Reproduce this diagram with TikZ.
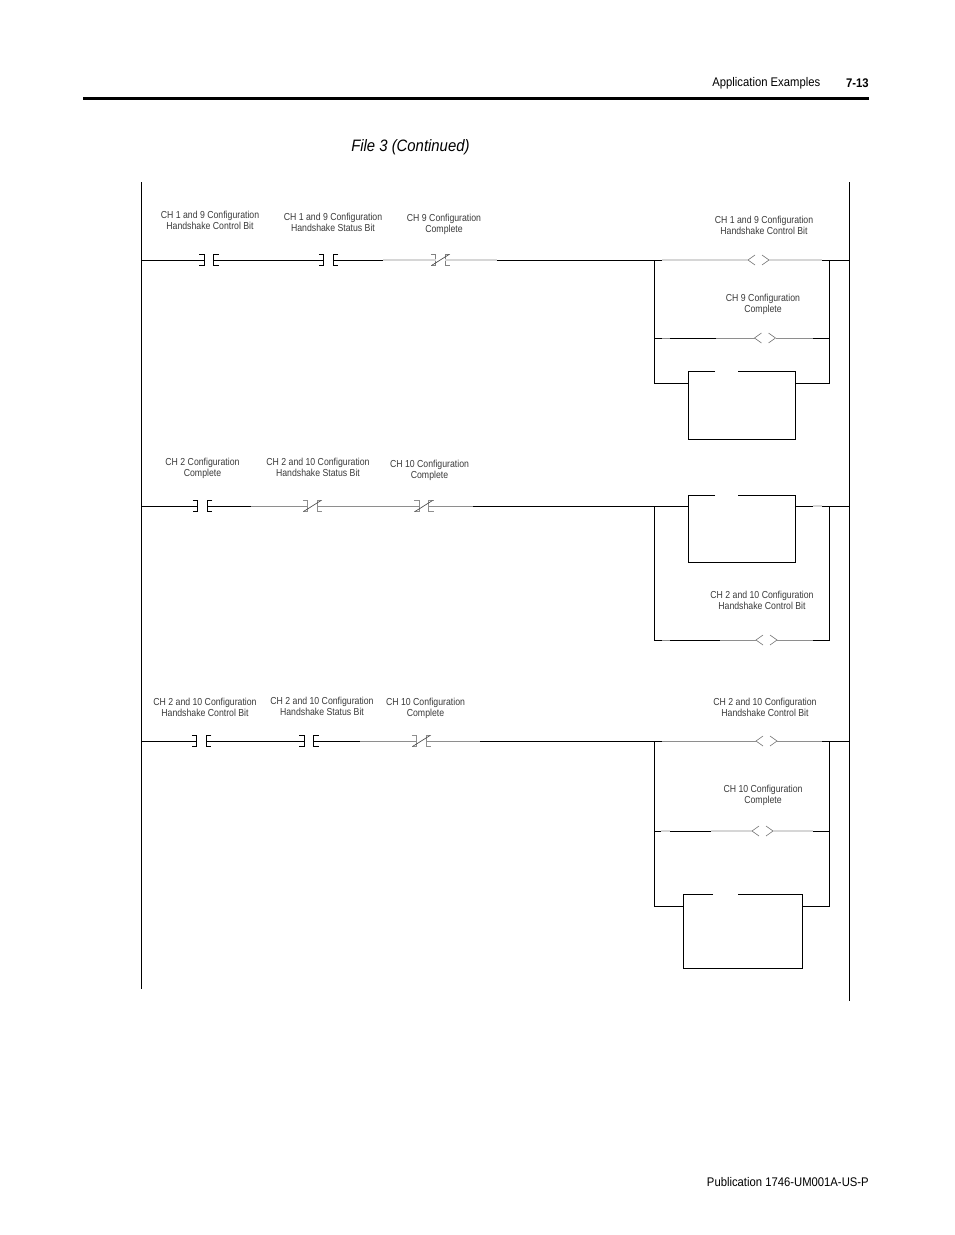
\documentclass[tikz,border=0pt]{standalone}
\usepackage{fontspec}
\setmainfont{Liberation Sans}
\newfontfamily\narrowfont[FakeStretch=0.86]{Liberation Sans}
\newfontfamily\headfont[FakeStretch=0.90]{Liberation Sans}
\definecolor{faintgray}{HTML}{D6D6D6}
\definecolor{midgray}{HTML}{8E8E8E}
\definecolor{labelgray}{HTML}{3A3A3A}
\tikzset{
  wire/.style={black, line width=0.6pt},
  faintwire/.style={faintgray, line width=0.9pt},
  midwire/.style={midgray, line width=0.7pt},
  rail/.style={black, line width=0.65pt},
  taglabel/.style={inner sep=0pt, align=center, text=labelgray, font=\narrowfont\fontsize{7.6}{8.25}\selectfont},
  headlabel/.style={inner sep=0pt, font=\headfont\fontsize{9.4}{11}\selectfont},
  pics/nocontact/.style={code={
    \coordinate (-in) at (-4.75,0);
    \coordinate (-out) at (4.75,0);
    \draw[black, line width=0.5pt] (-9.75,-5.5) -- (-4.75,-5.5) -- (-4.75,5.5) -- (-9.75,5.5);
    \draw[black, line width=0.5pt] (9.75,-5.5) -- (4.75,-5.5) -- (4.75,5.5) -- (9.75,5.5);
  }},
  pics/nccontact/.style={code={
    \coordinate (-in) at (-4.75,0);
    \coordinate (-out) at (4.75,0);
    \draw[#1, line width=0.5pt] (-9.75,-5.5) -- (-4.75,-5.5) -- (-4.75,5.5) -- (-9.75,5.5);
    \draw[#1, line width=0.5pt] (9.75,-5.5) -- (4.75,-5.5) -- (4.75,5.5) -- (9.75,5.5);
    \draw[black!70, line width=0.5pt] (-9,5.5) -- (8.5,-5.5);
  }},
  pics/coil/.style={code={
    \coordinate (-in) at (-10.5,0);
    \coordinate (-out) at (10.5,0);
    \draw[black!55, line width=0.45pt] (-3.5,-5) -- (-10.5,0) -- (-3.5,5);
    \draw[black!55, line width=0.45pt] (3.5,-5) -- (10.5,0) -- (3.5,5);
  }},
}
\begin{document}
\begin{tikzpicture}[x=0.75pt, y=-0.75pt]
\useasboundingbox (0,0) rectangle (954,1235);

% Page furniture
\coordinate (ruleL) at (83,98.5);
\coordinate (ruleR) at (869,98.5);
\draw[black, line width=2.2pt] (ruleL) -- (ruleR);
\node[headlabel, anchor=east] (headTitle) at (820.5,83.5) {Application Examples};
\node[headlabel, anchor=east] (headPage) at (869,83.5) {\bfseries 7-13};
\node[anchor=west, inner sep=0pt, font=\headfont\itshape\fontsize{12.4}{16}\selectfont] (fileTitle) at (351,147) {File 3 (Continued)};
\node[headlabel, anchor=east] (footPub) at (869,1182) {Publication 1746-UM001A-US-P};

% Power rails
\coordinate (leftTop) at (141,182);
\coordinate (leftBot) at (141,989);
\coordinate (rightTop) at (849,182);
\coordinate (rightBot) at (849,1001);
\draw[rail] (leftTop) -- (leftBot);
\draw[rail] (rightTop) -- (rightBot);

%%% Rung 1
\coordinate (a0) at (141,260);
\coordinate (a1) at (383,260);
\coordinate (a2) at (497,260);
\coordinate (aL) at (654,260);
\coordinate (a3) at (662,260);
\coordinate (a4) at (822,260);
\coordinate (aR) at (829.5,260);
\coordinate (a5) at (849,260);
\path (209,260) pic (aC1) {nocontact};
\path (328.5,260) pic (aC2) {nocontact};
\path (440.5,260) pic (aC3) {nccontact=faintgray!60!black};
\path (758.5,260) pic (aQ1) {coil};
\draw[wire] (a0) -- (aC1-in);
\draw[wire] (aC1-out) -- (aC2-in);
\draw[wire] (aC2-out) -- (a1);
\draw[faintwire] (a1) -- (aC3-in);
\draw[faintwire] (aC3-out) -- (a2);
\draw[wire] (a2) -- (a3);
\draw[faintwire] (a3) -- (aQ1-in);
\draw[faintwire] (aQ1-out) -- (a4);
\draw[wire] (a4) -- (a5);
% Second branch
\coordinate (aL2) at (654,338);
\coordinate (aR2) at (829.5,338);
\coordinate (a6) at (716,338);
\coordinate (a7) at (813,338);
\coordinate (a8) at (662,338);
\coordinate (a9) at (670,338);
\path (765,338) pic (aQ2) {coil};
\draw[wire] (aL2) -- (a8);
\draw[midwire] (a8) -- (a9);
\draw[wire] (a9) -- (a6);
\draw[midwire] (a6) -- (aQ2-in);
\draw[midwire] (aQ2-out) -- (a7);
\draw[wire] (a7) -- (aR2);
% Block
\coordinate (aL3) at (654,383);
\coordinate (aR3) at (829.5,383);
\coordinate (aBnw) at (688,371);
\coordinate (aBse) at (795.5,439);
\coordinate (aBgl) at (715,371);
\coordinate (aBgr) at (738,371);
\coordinate (aBw) at (688,383);
\coordinate (aBe) at (795.5,383);
\draw[wire] (aBgl) -- (aBnw) |- (aBse) |- (aBgr);
\draw[wire] (aL) -- (aL3) -- (aBw);
\draw[wire] (aR) -- (aR3) -- (aBe);

%%% Rung 2
\coordinate (b0) at (141,506);
\coordinate (b1) at (251,506);
\coordinate (b2) at (473,506);
\coordinate (bL) at (654,506);
\coordinate (bR) at (829.5,506);
\coordinate (b3) at (813,506);
\coordinate (b4) at (822,506);
\coordinate (b5) at (849,506);
\path (202.5,506) pic (bC1) {nocontact};
\path (312.5,506) pic (bC2) {nccontact=midgray};
\path (424,506) pic (bC3) {nccontact=midgray};
\draw[wire] (b0) -- (bC1-in);
\draw[wire] (bC1-out) -- (b1);
\draw[midwire] (b1) -- (bC2-in);
\draw[midwire] (bC2-out) -- (bC3-in);
\draw[midwire] (bC3-out) -- (b2);
% Block
\coordinate (bBnw) at (688,495);
\coordinate (bBse) at (795.5,562);
\coordinate (bBgl) at (715,495);
\coordinate (bBgr) at (738,495);
\coordinate (bBw) at (688,506);
\coordinate (bBe) at (795.5,506);
\draw[wire] (bBgl) -- (bBnw) |- (bBse) |- (bBgr);
\draw[wire] (b2) -- (bBw);
\draw[wire] (bBe) -- (b3);
\draw[faintwire] (b3) -- (b4);
\draw[wire] (b4) -- (b5);
% Second branch
\coordinate (bL2) at (654,640);
\coordinate (bR2) at (829.5,640);
\coordinate (b6) at (720,640);
\coordinate (b7) at (813,640);
\coordinate (b8) at (662,640);
\coordinate (b9) at (670,640);
\path (766.5,640) pic (bQ1) {coil};
\draw[wire] (bL) -- (bL2) -- (b8);
\draw[midwire] (b8) -- (b9);
\draw[wire] (b9) -- (b6);
\draw[midwire] (b6) -- (bQ1-in);
\draw[midwire] (bQ1-out) -- (b7);
\draw[wire] (b7) -- (bR2) -- (bR);

%%% Rung 3
\coordinate (c0) at (141,741);
\coordinate (c1) at (360,741);
\coordinate (c2) at (480,741);
\coordinate (cL) at (654,741);
\coordinate (c3) at (662,741);
\coordinate (c4) at (822,741);
\coordinate (cR) at (829.5,741);
\coordinate (c5) at (849,741);
\path (201.5,741) pic (cC1) {nocontact};
\path (309,741) pic (cC2) {nocontact};
\path (421.5,741) pic (cC3) {nccontact=midgray};
\path (766.5,741) pic (cQ1) {coil};
\draw[wire] (c0) -- (cC1-in);
\draw[wire] (cC1-out) -- (cC2-in);
\draw[wire] (cC2-out) -- (c1);
\draw[midwire] (c1) -- (cC3-in);
\draw[midwire] (cC3-out) -- (c2);
\draw[wire] (c2) -- (c3);
\draw[midwire] (c3) -- (cQ1-in);
\draw[midwire] (cQ1-out) -- (c4);
\draw[wire] (c4) -- (c5);
% Second branch
\coordinate (cL2) at (654,831);
\coordinate (cR2) at (829.5,831);
\coordinate (c6) at (711,831);
\coordinate (c7) at (813,831);
\coordinate (c8) at (661,831);
\coordinate (c9) at (670,831);
\path (762.5,831) pic (cQ2) {coil};
\draw[wire] (cL2) -- (c8);
\draw[faintwire] (c8) -- (c9);
\draw[wire] (c9) -- (c6);
\draw[faintwire] (c6) -- (cQ2-in);
\draw[faintwire] (cQ2-out) -- (c7);
\draw[wire] (c7) -- (cR2);
% Block
\coordinate (cL3) at (654,906.5);
\coordinate (cR3) at (829.5,906.5);
\coordinate (cBnw) at (683,894);
\coordinate (cBse) at (802.5,968);
\coordinate (cBgl) at (713,894);
\coordinate (cBgr) at (738,894);
\coordinate (cBw) at (683,906.5);
\coordinate (cBe) at (802.5,906.5);
\draw[wire] (cBgl) -- (cBnw) |- (cBse) |- (cBgr);
\draw[wire] (cL) -- (cL3) -- (cBw);
\draw[wire] (cR) -- (cR3) -- (cBe);

% Tags, rung 1
\node[taglabel] (aT1) at (210,220) {CH 1 and 9 Configuration\\Handshake Control Bit};
\node[taglabel] (aT2) at (333,222) {CH 1 and 9 Configuration\\Handshake Status Bit};
\node[taglabel] (aT3) at (444,224) {CH 9 Configuration\\Complete};
\node[taglabel] (aT4) at (764,225) {CH 1 and 9 Configuration\\Handshake Control Bit};
\node[taglabel] (aT5) at (763,304.5) {CH 9 Configuration\\Complete};
% Tags, rung 2
\node[taglabel] (bT1) at (202.5,468.5) {CH 2 Configuration\\Complete};
\node[taglabel] (bT2) at (318,467.5) {CH 2 and 10 Configuration\\Handshake Status Bit};
\node[taglabel] (bT3) at (429.5,470.5) {CH 10 Configuration\\Complete};
\node[taglabel] (bT4) at (762,600) {CH 2 and 10 Configuration\\Handshake Control Bit};
% Tags, rung 3
\node[taglabel] (cT1) at (205,707) {CH 2 and 10 Configuration\\Handshake Control Bit};
\node[taglabel] (cT2) at (322,706) {CH 2 and 10 Configuration\\Handshake Status Bit};
\node[taglabel] (cT3) at (425.5,708.5) {CH 10 Configuration\\Complete};
\node[taglabel] (cT4) at (765,707) {CH 2 and 10 Configuration\\Handshake Control Bit};
\node[taglabel] (cT5) at (763,795.5) {CH 10 Configuration\\Complete};
\end{tikzpicture}
\end{document}
